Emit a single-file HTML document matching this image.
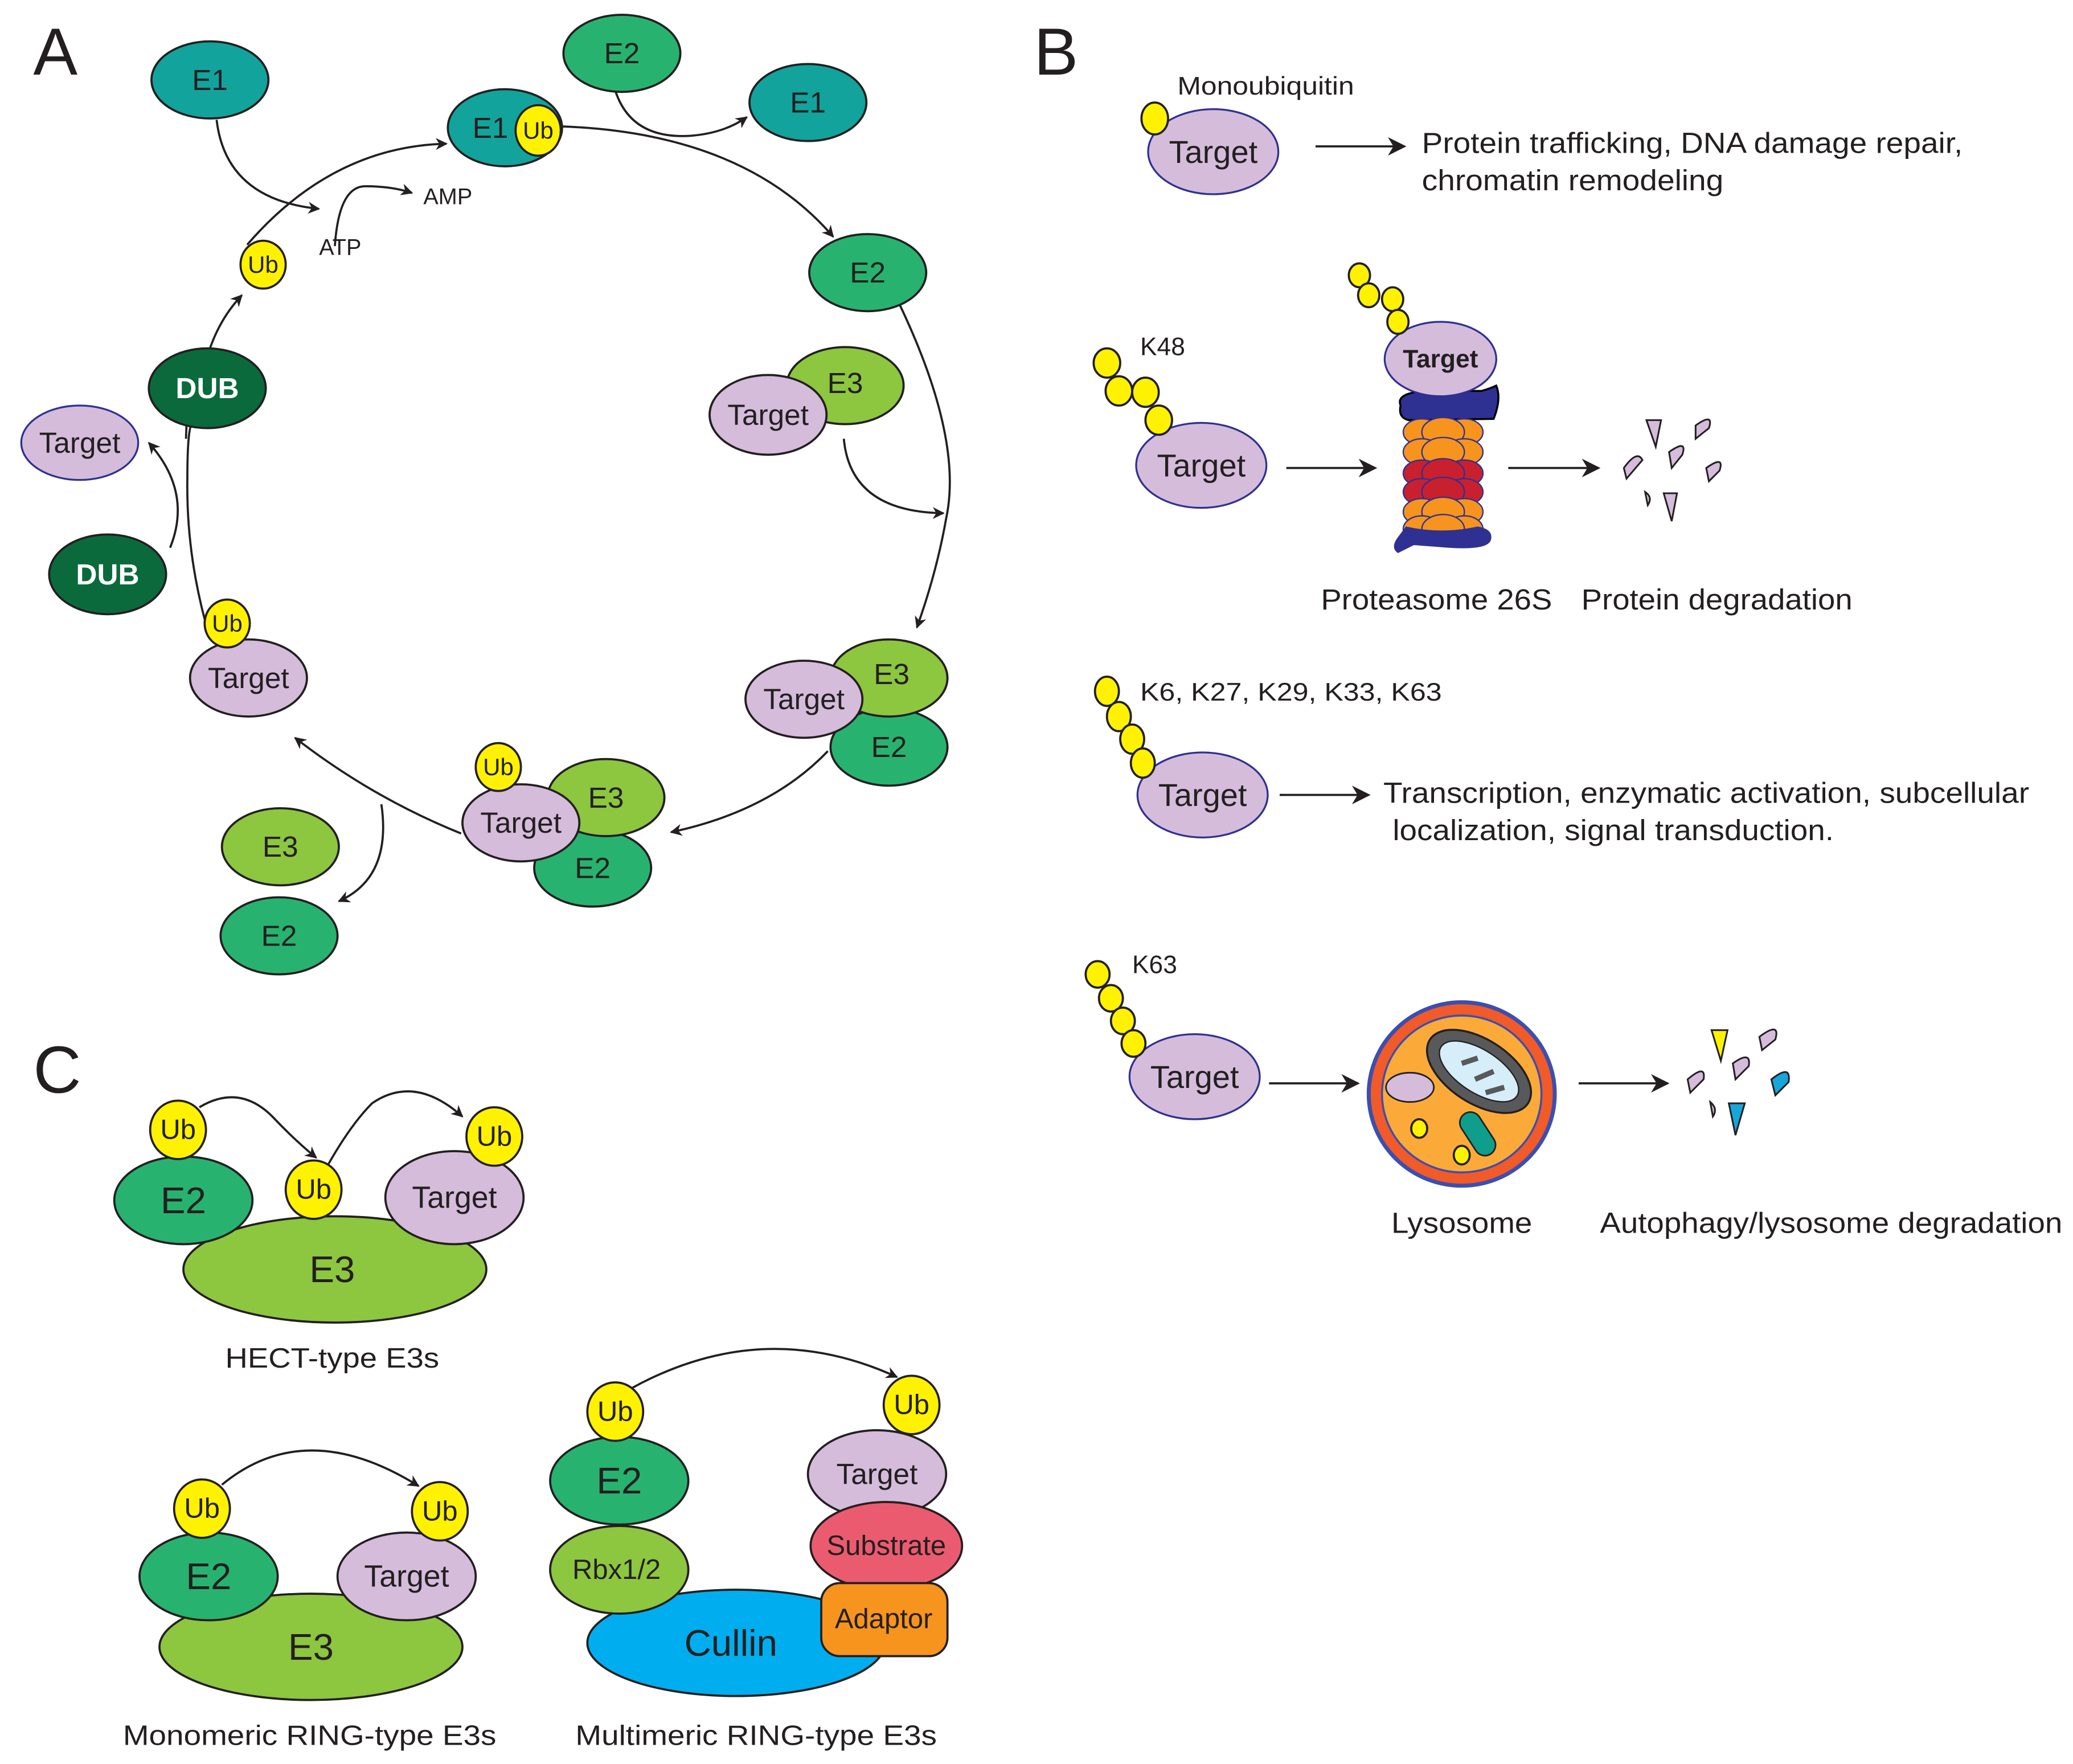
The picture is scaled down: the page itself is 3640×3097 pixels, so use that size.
<!DOCTYPE html>
<html><head><meta charset="utf-8"><style>
html,body{margin:0;padding:0;background:#fff}
svg{display:block}
text{font-family:"Liberation Sans Narrow","Liberation Sans",Arial,sans-serif;fill:#231f20}
.c{text-anchor:middle;dominant-baseline:central}
.o{stroke:#231f20;stroke-width:1.6}
.e1{fill:#12a39c}.e2{fill:#27b36f}.e3{fill:#8dc63f}.t{fill:#d5bcdb}.ub{fill:#fff200}.dub{fill:#0b6a3b}
.ln{fill:none;stroke:#231f20;stroke-width:1.6}
</style></head><body>
<svg width="3640" height="3097" viewBox="0 0 1560 1327" xmlns="http://www.w3.org/2000/svg">
<defs>
<marker id="a" viewBox="0 0 10 10" refX="9" refY="5" markerWidth="9" markerHeight="9" orient="auto" markerUnits="userSpaceOnUse"><path d="M0,0 L10,5 L0,10 L3,5 z" fill="#231f20"/></marker>
<marker id="b" viewBox="0 0 10 10" refX="9" refY="5" markerWidth="14" markerHeight="14" orient="auto" markerUnits="userSpaceOnUse"><path d="M0,0 L10,5 L0,10 L3,5 z" fill="#231f20"/></marker>
</defs>

<!-- ===== Panel A ===== -->
<text x="25" y="56" font-size="50" style="font-family:'Liberation Sans',sans-serif">A</text>

<path class="ln" d="M186,184 Q250,110 336,108" marker-end="url(#a)"/>
<path class="ln" d="M423,95 Q560,100 627,178" marker-end="url(#a)"/>
<path class="ln" d="M677,229 Q725,330 712,390 Q705,430 690,472" marker-end="url(#a)"/>
<path class="ln" d="M623,565 Q580,610 505,626" marker-end="url(#a)"/>
<path class="ln" d="M347,627 Q280,600 222,555" marker-end="url(#a)"/>
<path class="ln" d="M158,480 Q140,420 141,360 Q141,320 145,318"/>
<path class="ln" d="M140,330 Q140,300 154,265"/>
<path class="ln" d="M157,265 Q165,240 182,222" marker-end="url(#a)"/>
<path class="ln" d="M163,90 Q170,150 240,157" marker-end="url(#a)"/>
<path class="ln" d="M252,185 Q255,140 275,140 Q295,140 310,145" marker-end="url(#a)"/>
<path class="ln" d="M463,68 Q475,105 520,102 Q545,100 562,88" marker-end="url(#a)"/>
<path class="ln" d="M635,330 Q640,385 710,386" marker-end="url(#a)"/>
<path class="ln" d="M287,605 Q295,660 255,678" marker-end="url(#a)"/>
<path class="ln" d="M128,412 Q145,370 112,333" marker-end="url(#a)"/>

<text x="337" y="148" class="c" font-size="17">AMP</text>
<text x="256" y="186" class="c" font-size="17">ATP</text>

<ellipse cx="158" cy="60" rx="44" ry="29" class="e1 o"/><text x="158" y="60" class="c" font-size="22">E1</text>
<ellipse cx="468" cy="40" rx="44" ry="29" class="e2 o"/><text x="468" y="40" class="c" font-size="22">E2</text>
<ellipse cx="608" cy="77" rx="44" ry="29" class="e1 o"/><text x="608" y="77" class="c" font-size="22">E1</text>
<ellipse cx="380" cy="96" rx="43" ry="29" class="e1 o"/><text x="369" y="96" class="c" font-size="22">E1</text>
<ellipse cx="405" cy="98" rx="17" ry="19" class="ub o"/><text x="405" y="98" class="c" font-size="18">Ub</text>
<ellipse cx="653" cy="205" rx="44" ry="29" class="e2 o"/><text x="653" y="205" class="c" font-size="22">E2</text>
<ellipse cx="636" cy="290" rx="44" ry="29" class="e3 o"/><text x="636" y="288" class="c" font-size="22">E3</text>
<ellipse cx="578" cy="312" rx="44" ry="30" class="t o"/><text x="578" y="312" class="c" font-size="22">Target</text>
<ellipse cx="198" cy="199" rx="17" ry="18" class="ub o"/><text x="198" y="199" class="c" font-size="18">Ub</text>
<ellipse cx="156" cy="292" rx="44" ry="30" class="dub o"/><text x="156" y="292" class="c" font-size="22" font-weight="bold" style="fill:#fff">DUB</text>
<ellipse cx="81" cy="432" rx="44" ry="30" class="dub o"/><text x="81" y="432" class="c" font-size="22" font-weight="bold" style="fill:#fff">DUB</text>
<ellipse cx="60" cy="333" rx="44" ry="28" class="t" stroke="#2e3192" stroke-width="1.4"/><text x="60" y="333" class="c" font-size="22">Target</text>
<ellipse cx="669" cy="562" rx="44" ry="29" class="e2 o"/><text x="669" y="562" class="c" font-size="22">E2</text>
<ellipse cx="669" cy="510" rx="44" ry="29" class="e3 o"/><text x="671" y="507" class="c" font-size="22">E3</text>
<ellipse cx="605" cy="526" rx="44" ry="29" class="t o"/><text x="605" y="526" class="c" font-size="22">Target</text>
<ellipse cx="446" cy="653" rx="44" ry="29" class="e2 o"/><text x="446" y="653" class="c" font-size="22">E2</text>
<ellipse cx="456" cy="600" rx="44" ry="29" class="e3 o"/><text x="456" y="600" class="c" font-size="22">E3</text>
<ellipse cx="392" cy="619" rx="44" ry="29" class="t o"/><text x="392" y="619" class="c" font-size="22">Target</text>
<ellipse cx="375" cy="577" rx="17" ry="18" class="ub o"/><text x="375" y="577" class="c" font-size="18">Ub</text>
<ellipse cx="211" cy="637" rx="44" ry="29" class="e3 o"/><text x="211" y="637" class="c" font-size="22">E3</text>
<ellipse cx="210" cy="704" rx="44" ry="29" class="e2 o"/><text x="210" y="704" class="c" font-size="22">E2</text>
<ellipse cx="187" cy="510" rx="44" ry="29" class="t o"/><text x="187" y="510" class="c" font-size="22">Target</text>
<ellipse cx="171" cy="469" rx="17" ry="18" class="ub o"/><text x="171" y="469" class="c" font-size="18">Ub</text>

<!-- ===== Panel B ===== -->
<text x="778" y="56" font-size="50" style="font-family:'Liberation Sans',sans-serif">B</text>

<text x="886" y="71" font-size="19" textLength="133" lengthAdjust="spacingAndGlyphs">Monoubiquitin</text>
<ellipse cx="913" cy="114" rx="49" ry="32" class="t" stroke="#2e3192" stroke-width="1.4"/><text x="913" y="114" class="c" font-size="24">Target</text>
<ellipse cx="869" cy="89" rx="10" ry="12" class="ub o"/>
<path class="ln" d="M990,110 L1057,110" marker-end="url(#b)"/>
<text x="1070" y="115" font-size="22" textLength="407" lengthAdjust="spacingAndGlyphs">Protein trafficking, DNA damage repair,</text>
<text x="1070" y="143" font-size="22" textLength="227" lengthAdjust="spacingAndGlyphs">chromatin remodeling</text>

<text x="858" y="267" font-size="19">K48</text>
<ellipse cx="904" cy="350" rx="49" ry="32" class="t" stroke="#2e3192" stroke-width="1.4"/><text x="904" y="350" class="c" font-size="24">Target</text>
<ellipse cx="833" cy="273" rx="10" ry="11" class="ub o"/>
<ellipse cx="842" cy="294" rx="10" ry="11" class="ub o"/>
<ellipse cx="862" cy="295" rx="10" ry="11" class="ub o"/>
<ellipse cx="872" cy="316" rx="10" ry="11" class="ub o"/>
<path class="ln" d="M968,352 L1035,352" marker-end="url(#b)"/>
<path d="M1054,305 Q1050,295 1075,294 L1115,294 Q1122,292 1126,290 Q1130,300 1124,315 L1060,316 Q1052,314 1054,305 z" fill="#2e3192" stroke="#000" stroke-width="1.5"/>
<g stroke="#2e3192" stroke-width="1">
<g fill="#f7941d">
<ellipse cx="1070" cy="325" rx="14" ry="10"/><ellipse cx="1102" cy="325" rx="14" ry="10"/><ellipse cx="1086" cy="325" rx="16" ry="11"/>
<ellipse cx="1070" cy="340" rx="14" ry="10"/><ellipse cx="1102" cy="340" rx="14" ry="10"/><ellipse cx="1086" cy="340" rx="16" ry="11"/>
</g><g fill="#c8202f">
<ellipse cx="1070" cy="356" rx="14" ry="10"/><ellipse cx="1102" cy="356" rx="14" ry="10"/><ellipse cx="1086" cy="356" rx="16" ry="11"/>
<ellipse cx="1070" cy="370" rx="14" ry="10"/><ellipse cx="1102" cy="370" rx="14" ry="10"/><ellipse cx="1086" cy="370" rx="16" ry="11"/>
</g><g fill="#f7941d">
<ellipse cx="1070" cy="385" rx="14" ry="10"/><ellipse cx="1102" cy="385" rx="14" ry="10"/><ellipse cx="1086" cy="385" rx="16" ry="11"/>
<ellipse cx="1070" cy="398" rx="14" ry="10"/><ellipse cx="1102" cy="398" rx="14" ry="10"/><ellipse cx="1086" cy="398" rx="16" ry="11"/>
</g></g>
<path d="M1058,396 Q1085,402 1112,396 Q1124,398 1122,406 Q1120,414 1090,412 L1064,410 Q1058,413 1052,416 Q1046,412 1052,404 z" fill="#2e3192"/>
<ellipse cx="1084" cy="270" rx="42" ry="28" class="t" stroke="#2e3192" stroke-width="1.4"/><text x="1084" y="270" class="c" font-size="19" font-weight="bold">Target</text>
<ellipse cx="1023" cy="207" rx="8" ry="9" class="ub o"/>
<ellipse cx="1030" cy="222" rx="8" ry="9" class="ub o"/>
<ellipse cx="1048" cy="225" rx="8" ry="9" class="ub o"/>
<ellipse cx="1052" cy="242" rx="8" ry="9" class="ub o"/>
<path class="ln" d="M1135,352 L1203,352" marker-end="url(#b)"/>
<g fill="#d5bcdb" stroke="#231f20" stroke-width="1.3">
<path d="M1239,316 L1250,316 L1246,336 Z"/>
<path d="M1276,320 Q1290,310 1286,322 L1276,330 Z"/>
<path d="M1222,352 Q1232,338 1236,346 L1224,360 Z"/>
<path d="M1256,340 Q1270,330 1266,342 L1258,352 Z"/>
<path d="M1284,352 Q1298,342 1294,354 L1286,362 Z"/>
<path d="M1238,370 Q1244,374 1240,380 Z"/>
<path d="M1252,371 L1262,371 L1258,392 Z"/>
</g>
<text x="1081" y="451" class="c" font-size="22" textLength="174" lengthAdjust="spacingAndGlyphs">Proteasome 26S</text>
<text x="1292" y="451" class="c" font-size="22" textLength="204" lengthAdjust="spacingAndGlyphs">Protein degradation</text>

<text x="858" y="527" font-size="19" textLength="227" lengthAdjust="spacingAndGlyphs">K6, K27, K29, K33, K63</text>
<ellipse cx="905" cy="598" rx="49" ry="32" class="t" stroke="#2e3192" stroke-width="1.4"/><text x="905" y="598" class="c" font-size="24">Target</text>
<ellipse cx="833" cy="520" rx="9" ry="11" class="ub o"/>
<ellipse cx="842" cy="539" rx="9" ry="11" class="ub o"/>
<ellipse cx="852" cy="556" rx="9" ry="11" class="ub o"/>
<ellipse cx="860" cy="574" rx="9" ry="11" class="ub o"/>
<path class="ln" d="M963,598 L1030,598" marker-end="url(#b)"/>
<text x="1041" y="604" font-size="22" textLength="486" lengthAdjust="spacingAndGlyphs">Transcription, enzymatic activation, subcellular</text>
<text x="1048" y="632" font-size="22" textLength="332" lengthAdjust="spacingAndGlyphs">localization, signal transduction.</text>

<text x="852" y="732" font-size="19">K63</text>
<ellipse cx="899" cy="810" rx="49" ry="32" class="t" stroke="#2e3192" stroke-width="1.4"/><text x="899" y="810" class="c" font-size="24">Target</text>
<ellipse cx="826" cy="733" rx="9" ry="10" class="ub o"/>
<ellipse cx="836" cy="751" rx="9" ry="10" class="ub o"/>
<ellipse cx="845" cy="768" rx="9" ry="10" class="ub o"/>
<ellipse cx="853" cy="785" rx="9" ry="10" class="ub o"/>
<path class="ln" d="M955,815 L1022,815" marker-end="url(#b)"/>
<ellipse cx="1100" cy="823" rx="70" ry="69" fill="#f15a29" stroke="#3a4fb0" stroke-width="3"/>
<ellipse cx="1100" cy="823" rx="60" ry="59" fill="#fbaa3a" stroke="#3a4fb0" stroke-width="1.5"/>
<ellipse cx="1113" cy="806" rx="44" ry="24" transform="rotate(33 1113 806)" fill="#58595b" stroke="#231f20" stroke-width="1.5"/>
<ellipse cx="1113" cy="806" rx="34" ry="16" transform="rotate(33 1113 806)" fill="#d6eefa" stroke="#231f20" stroke-width="1"/>
<path d="M1100,800 L1112,796 M1110,812 L1124,806 M1118,822 L1132,818" stroke="#58595b" stroke-width="4"/>
<ellipse cx="1061" cy="818" rx="18" ry="11" fill="#d5bcdb" stroke="#231f20" stroke-width="1.2"/>
<rect x="1104" y="835" width="16" height="36" rx="8" transform="rotate(-33 1112 853)" fill="#0f9d8c" stroke="#231f20" stroke-width="1.2"/>
<ellipse cx="1068" cy="849" rx="6" ry="7" class="ub o"/>
<ellipse cx="1100" cy="869" rx="6" ry="7" class="ub o"/>
<path class="ln" d="M1188,815 L1255,815" marker-end="url(#b)"/>
<g stroke="#231f20" stroke-width="1.3">
<path d="M1288,775 L1300,775 L1295,798 Z" fill="#fff200"/>
<path d="M1324,780 Q1340,768 1336,782 L1326,790 Z" fill="#d5bcdb"/>
<path d="M1270,812 Q1284,800 1282,812 L1272,822 Z" fill="#d5bcdb"/>
<path d="M1304,800 Q1318,790 1316,802 L1306,812 Z" fill="#d5bcdb"/>
<path d="M1333,812 Q1348,800 1346,814 L1336,824 Z" fill="#17a6d9"/>
<path d="M1287,829 Q1293,834 1289,840 Z" fill="#d5bcdb"/>
<path d="M1301,830 L1313,830 L1306,854 Z" fill="#17a6d9"/>
</g>
<text x="1100" y="920" class="c" font-size="22" textLength="106" lengthAdjust="spacingAndGlyphs">Lysosome</text>
<text x="1378" y="920" class="c" font-size="22" textLength="348" lengthAdjust="spacingAndGlyphs">Autophagy/lysosome degradation</text>

<!-- ===== Panel C ===== -->
<text x="25" y="822" font-size="50" style="font-family:'Liberation Sans',sans-serif">C</text>
<path class="ln" d="M150,833 Q180,815 205,840 Q222,858 238,871" marker-end="url(#a)"/>
<path class="ln" d="M242,885 Q262,848 280,830 Q312,808 348,840" marker-end="url(#a)"/>
<ellipse cx="252" cy="955" rx="114" ry="40" class="e3 o"/><text x="250" y="955" class="c" font-size="28">E3</text>
<ellipse cx="138" cy="903" rx="52" ry="33" class="e2 o"/><text x="138" y="903" class="c" font-size="28">E2</text>
<ellipse cx="342" cy="901" rx="52" ry="35" class="t o"/><text x="342" y="901" class="c" font-size="23">Target</text>
<ellipse cx="134" cy="850" rx="21" ry="22" class="ub o"/><text x="134" y="850" class="c" font-size="21">Ub</text>
<ellipse cx="236" cy="895" rx="21" ry="22" class="ub o"/><text x="236" y="895" class="c" font-size="21">Ub</text>
<ellipse cx="372" cy="855" rx="21" ry="22" class="ub o"/><text x="372" y="855" class="c" font-size="21">Ub</text>
<text x="250" y="1022" class="c" font-size="21" textLength="161" lengthAdjust="spacingAndGlyphs">HECT-type E3s</text>

<path class="ln" d="M167,1117 Q230,1065 315,1118" marker-end="url(#a)"/>
<ellipse cx="234" cy="1239" rx="114" ry="40" class="e3 o"/><text x="234" y="1239" class="c" font-size="28">E3</text>
<ellipse cx="157" cy="1186" rx="52" ry="33" class="e2 o"/><text x="157" y="1186" class="c" font-size="28">E2</text>
<ellipse cx="306" cy="1186" rx="52" ry="33" class="t o"/><text x="306" y="1186" class="c" font-size="23">Target</text>
<ellipse cx="152" cy="1135" rx="21" ry="22" class="ub o"/><text x="152" y="1135" class="c" font-size="21">Ub</text>
<ellipse cx="331" cy="1137" rx="21" ry="22" class="ub o"/><text x="331" y="1137" class="c" font-size="21">Ub</text>
<text x="233" y="1306" class="c" font-size="21" textLength="281" lengthAdjust="spacingAndGlyphs">Monomeric RING-type E3s</text>

<path class="ln" d="M476,1044 Q575,990 675,1036" marker-end="url(#a)"/>
<ellipse cx="554" cy="1236" rx="112" ry="40" fill="#00aeef" class="o"/><text x="550" y="1236" class="c" font-size="28">Cullin</text>
<ellipse cx="466" cy="1181" rx="52" ry="33" class="e3 o"/><text x="464" y="1181" class="c" font-size="21">Rbx1/2</text>
<ellipse cx="466" cy="1114" rx="52" ry="33" class="e2 o"/><text x="466" y="1114" class="c" font-size="28">E2</text>
<ellipse cx="463" cy="1062" rx="21" ry="22" class="ub o"/><text x="463" y="1062" class="c" font-size="21">Ub</text>
<ellipse cx="660" cy="1109" rx="52" ry="33" class="t o"/><text x="660" y="1109" class="c" font-size="22">Target</text>
<ellipse cx="667" cy="1163" rx="57" ry="33" fill="#eb5b6f" class="o"/><text x="667" y="1163" class="c" font-size="21">Substrate</text>
<rect x="618" y="1191" width="95" height="55" rx="14" fill="#f7941d" class="o"/><text x="665" y="1218" class="c" font-size="21">Adaptor</text>
<ellipse cx="686" cy="1057" rx="21" ry="22" class="ub o"/><text x="686" y="1057" class="c" font-size="21">Ub</text>
<text x="569" y="1306" class="c" font-size="21" textLength="272" lengthAdjust="spacingAndGlyphs">Multimeric RING-type E3s</text>
</svg>
</body></html>
